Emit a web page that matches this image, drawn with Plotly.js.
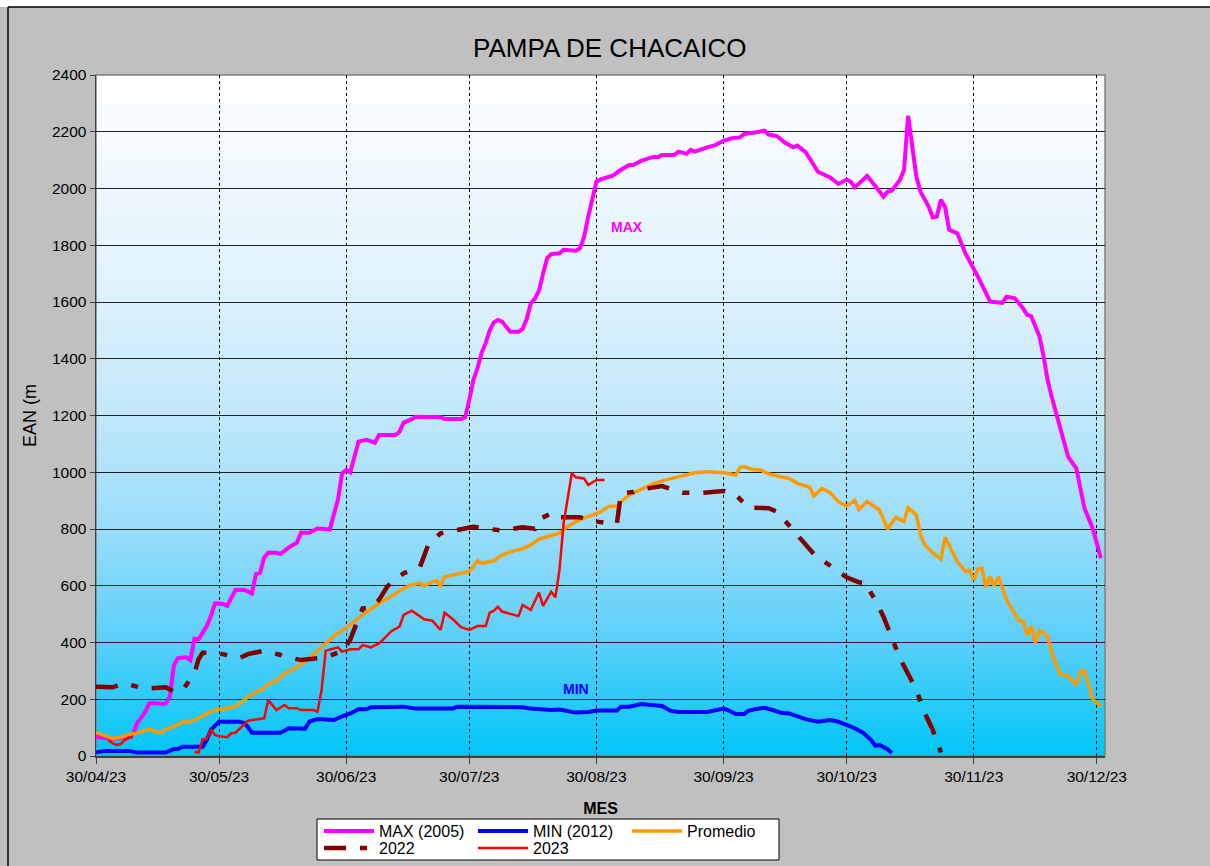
<!DOCTYPE html>
<html>
<head>
<meta charset="utf-8">
<script src="https://cdn.plot.ly/plotly-3.0.1.min.js"></script>
<style>
  html, body { margin: 0; padding: 0; background: #C0C0C0; }
  #chart { width: 1210px; height: 866px; }
</style>
</head>
<body>
<div id="chart"></div>
<script>
// ---- Data (date, EAN value) ----
const maxSeries = [
  ['2023-04-30',68],['2023-05-02',64],['2023-05-04',60],['2023-05-06',63],['2023-05-08',66],['2023-05-09',76],
  ['2023-05-10',115],['2023-05-11',135],['2023-05-12',155],['2023-05-13',186],['2023-05-14',188],['2023-05-16',183],
  ['2023-05-17',185],['2023-05-18',209],['2023-05-19',320],['2023-05-20',345],['2023-05-22',348],['2023-05-23',338],
  ['2023-05-24',413],['2023-05-25',411],['2023-05-26',432],['2023-05-27',458],['2023-05-28',492],['2023-05-29',538],
  ['2023-05-31',536],['2023-06-01',529],['2023-06-03',585],['2023-06-05',586],['2023-06-07',573],['2023-06-08',641],
  ['2023-06-09',646],['2023-06-10',700],['2023-06-11',716],['2023-06-13',716],['2023-06-14',712],['2023-06-16',735],
  ['2023-06-18',752],['2023-06-19',787],['2023-06-21',787],['2023-06-23',802],['2023-06-26',798],['2023-06-27',850],
  ['2023-06-28',905],['2023-06-29',996],['2023-06-30',1008],['2023-07-01',1000],['2023-07-03',1108],['2023-07-05',1114],
  ['2023-07-07',1104],['2023-07-08',1131],['2023-07-12',1131],['2023-07-13',1143],['2023-07-14',1175],['2023-07-16',1187],
  ['2023-07-17',1196],['2023-07-23',1194],['2023-07-24',1188],['2023-07-28',1188],['2023-07-29',1194],['2023-07-30',1255],
  ['2023-07-31',1325],['2023-08-01',1366],['2023-08-02',1420],['2023-08-03',1455],['2023-08-04',1500],['2023-08-05',1528],
  ['2023-08-06',1537],['2023-08-07',1531],['2023-08-08',1512],['2023-08-09',1495],['2023-08-11',1495],['2023-08-12',1505],
  ['2023-08-13',1540],['2023-08-14',1595],['2023-08-15',1612],['2023-08-16',1640],['2023-08-17',1700],['2023-08-18',1755],
  ['2023-08-19',1769],['2023-08-21',1772],['2023-08-22',1784],['2023-08-25',1781],['2023-08-26',1790],['2023-08-27',1830],
  ['2023-08-28',1900],['2023-08-29',1960],['2023-08-30',2024],['2023-08-31',2032],['2023-09-02',2040],['2023-09-03',2045],
  ['2023-09-05',2066],['2023-09-07',2083],['2023-09-08',2083],['2023-09-10',2098],['2023-09-13',2112],['2023-09-14',2110],
  ['2023-09-15',2118],['2023-09-18',2118],['2023-09-19',2130],['2023-09-21',2122],['2023-09-22',2136],['2023-09-23',2130],
  ['2023-09-26',2145],['2023-09-28',2153],['2023-09-30',2168],['2023-10-02',2177],['2023-10-04',2180],['2023-10-05',2192],
  ['2023-10-08',2198],['2023-10-10',2204],['2023-10-11',2190],['2023-10-13',2185],['2023-10-15',2161],['2023-10-17',2145],
  ['2023-10-18',2151],['2023-10-20',2128],['2023-10-21',2106],['2023-10-23',2059],['2023-10-26',2039],['2023-10-28',2016],
  ['2023-10-30',2032],['2023-10-31',2024],['2023-11-01',2004],['2023-11-04',2044],['2023-11-06',2009],['2023-11-08',1971],
  ['2023-11-09',1989],['2023-11-10',1992],['2023-11-12',2030],['2023-11-13',2065],['2023-11-14',2256],['2023-11-16',2042],
  ['2023-11-17',1989],['2023-11-19',1936],['2023-11-20',1898],['2023-11-21',1901],['2023-11-22',1960],['2023-11-23',1935],
  ['2023-11-24',1854],['2023-11-26',1842],['2023-11-28',1770],['2023-12-01',1690],['2023-12-04',1601],['2023-12-07',1597],
  ['2023-12-08',1619],['2023-12-10',1613],['2023-12-12',1578],['2023-12-13',1555],['2023-12-14',1550],['2023-12-16',1480],
  ['2023-12-17',1410],['2023-12-18',1325],['2023-12-19',1266],['2023-12-21',1160],['2023-12-22',1114],['2023-12-23',1055],
  ['2023-12-25',1014],['2023-12-26',949],['2023-12-27',873],['2023-12-29',802],['2023-12-30',750],['2023-12-31',697]
];

const minSeries = [
  ['2023-04-30',12],['2023-05-02',18],['2023-05-08',18],['2023-05-10',12],['2023-05-17',12],['2023-05-19',25],
  ['2023-05-20',25],['2023-05-21',33],['2023-05-26',33],['2023-05-27',56],['2023-05-28',92],['2023-05-30',121],
  ['2023-06-04',121],['2023-06-05',117],['2023-06-06',103],['2023-06-07',82],['2023-06-14',82],['2023-06-16',98],
  ['2023-06-20',96],['2023-06-21',121],['2023-06-23',130],['2023-06-25',127],['2023-06-27',127],['2023-06-29',140],
  ['2023-07-01',150],['2023-07-03',165],['2023-07-05',165],['2023-07-06',172],['2023-07-12',172],['2023-07-14',174],
  ['2023-07-17',167],['2023-07-26',167],['2023-07-27',174],['2023-07-30',174],['2023-08-01',174],['2023-08-12',172],
  ['2023-08-14',167],['2023-08-19',162],['2023-08-21',164],['2023-08-25',153],['2023-08-28',155],['2023-08-30',160],
  ['2023-09-04',160],['2023-09-05',174],['2023-09-07',174],['2023-09-10',183],['2023-09-13',179],['2023-09-15',176],
  ['2023-09-17',160],['2023-09-19',155],['2023-09-26',155],['2023-09-30',167],['2023-10-01',162],['2023-10-03',148],
  ['2023-10-05',148],['2023-10-06',159],['2023-10-08',166],['2023-10-10',170],['2023-10-12',162],['2023-10-14',152],
  ['2023-10-16',150],['2023-10-18',140],['2023-10-20',130],['2023-10-23',121],['2023-10-26',127],['2023-10-28',121],
  ['2023-10-30',109],['2023-11-01',98],['2023-11-03',82],['2023-11-05',56],['2023-11-06',36],['2023-11-07',39],
  ['2023-11-09',24],['2023-11-10',10]
];

const promedioSeries = [
  ['2023-04-30',82],['2023-05-01',78],['2023-05-04',62],['2023-05-06',66],['2023-05-08',76],['2023-05-10',80],
  ['2023-05-11',86],['2023-05-13',94],['2023-05-14',89],['2023-05-16',82],['2023-05-17',94],['2023-05-19',103],
  ['2023-05-21',119],['2023-05-23',121],['2023-05-25',133],['2023-05-26',141],['2023-05-28',156],['2023-05-30',165],
  ['2023-05-31',162],['2023-06-01',170],['2023-06-03',174],['2023-06-05',197],['2023-06-07',218],['2023-06-10',239],
  ['2023-06-11',254],['2023-06-13',265],['2023-06-15',291],['2023-06-18',313],['2023-06-21',344],['2023-06-24',383],
  ['2023-06-27',423],['2023-07-01',462],['2023-07-04',497],['2023-07-08',538],['2023-07-11',562],['2023-07-14',591],
  ['2023-07-16',603],['2023-07-18',609],['2023-07-19',599],['2023-07-21',614],['2023-07-22',618],['2023-07-23',599],
  ['2023-07-24',632],['2023-07-27',641],['2023-07-30',650],['2023-07-31',667],['2023-08-01',688],['2023-08-02',679],
  ['2023-08-05',688],['2023-08-07',708],['2023-08-10',724],['2023-08-12',730],['2023-08-14',744],['2023-08-16',764],
  ['2023-08-19',775],['2023-08-21',785],['2023-08-23',808],['2023-08-25',826],['2023-08-27',838],['2023-08-29',849],
  ['2023-08-31',860],['2023-09-01',870],['2023-09-02',879],['2023-09-04',881],['2023-09-05',896],['2023-09-07',920],
  ['2023-09-10',940],['2023-09-13',961],['2023-09-16',973],['2023-09-19',984],['2023-09-23',998],['2023-09-26',1002],
  ['2023-09-30',998],['2023-10-03',990],['2023-10-04',1017],['2023-10-05',1020],['2023-10-07',1010],['2023-10-09',1008],
  ['2023-10-11',994],['2023-10-14',984],['2023-10-16',978],['2023-10-18',961],['2023-10-21',947],['2023-10-22',916],
  ['2023-10-24',943],['2023-10-26',928],['2023-10-28',896],['2023-10-30',880],['2023-11-01',901],['2023-11-02',869],
  ['2023-11-04',897],['2023-11-07',867],['2023-11-09',800],['2023-11-11',841],['2023-11-13',826],['2023-11-14',875],
  ['2023-11-16',850],['2023-11-17',780],['2023-11-18',745],['2023-11-20',716],['2023-11-22',694],['2023-11-23',771],
  ['2023-11-26',685],['2023-11-28',650],['2023-11-29',655],['2023-11-30',620],['2023-12-01',658],['2023-12-02',661],
  ['2023-12-03',594],['2023-12-04',632],['2023-12-05',599],['2023-12-06',632],['2023-12-08',550],['2023-12-11',477],
  ['2023-12-12',477],['2023-12-13',426],['2023-12-14',458],['2023-12-15',399],['2023-12-16',442],['2023-12-18',423],
  ['2023-12-19',364],['2023-12-21',289],['2023-12-23',282],['2023-12-25',250],['2023-12-26',297],['2023-12-27',301],
  ['2023-12-28',250],['2023-12-29',200],['2023-12-30',188],['2023-12-31',176]
];

const series2022 = [
  ['2023-04-30',244],['2023-05-04',242],['2023-05-07',256],['2023-05-09',249],['2023-05-12',237],['2023-05-17',242],
  ['2023-05-18',235],['2023-05-19',227],['2023-05-21',230],['2023-05-22',250],['2023-05-24',291],['2023-05-25',341],
  ['2023-05-26',364],['2023-05-30',362],['2023-06-01',356],['2023-06-04',345],['2023-06-06',359],['2023-06-10',371],
  ['2023-06-14',356],['2023-06-15',350],['2023-06-19',338],['2023-06-25',348],['2023-06-28',364],['2023-06-29',364],
  ['2023-07-01',411],['2023-07-03',479],['2023-07-04',520],['2023-07-06',522],['2023-07-08',550],['2023-07-10',597],
  ['2023-07-11',611],['2023-07-14',644],['2023-07-18',667],['2023-07-20',744],['2023-07-23',785],['2023-07-28',799],
  ['2023-07-31',808],['2023-08-03',802],['2023-08-07',794],['2023-08-12',806],['2023-08-15',801],['2023-08-16',834],
  ['2023-08-19',855],['2023-08-20',841],['2023-08-24',843],['2023-08-26',841],['2023-08-30',826],['2023-09-02',820],
  ['2023-09-04',820],['2023-09-05',926],['2023-09-08',930],['2023-09-10',940],['2023-09-15',951],['2023-09-18',937],
  ['2023-09-20',928],['2023-09-25',928],['2023-09-30',934],['2023-10-03',920],['2023-10-06',876],['2023-10-11',873],
  ['2023-10-13',861],['2023-10-15',829],['2023-10-19',761],['2023-10-22',712],['2023-10-24',691],['2023-10-26',670],
  ['2023-10-29',638],['2023-10-30',630],['2023-11-02',612],['2023-11-04',609],['2023-11-05',573],['2023-11-06',550],
  ['2023-11-08',491],['2023-11-10',420],['2023-11-12',344],['2023-11-14',289],['2023-11-16',233],['2023-11-18',153],
  ['2023-11-20',92],['2023-11-22',12]
];

const series2023 = [
  ['2023-05-03',56],['2023-05-04',45],['2023-05-05',39],['2023-05-06',42],['2023-05-07',56],['2023-05-08',64],['2023-05-09',68],
  ['2023-05-16',null],
  ['2023-05-24',15],['2023-05-25',12],['2023-05-26',59],['2023-05-27',59],['2023-05-28',94],['2023-05-29',74],
  ['2023-05-30',70],['2023-06-01',66],['2023-06-02',80],['2023-06-03',82],['2023-06-06',124],['2023-06-07',127],
  ['2023-06-10',133],['2023-06-11',197],['2023-06-13',162],['2023-06-15',180],['2023-06-16',168],['2023-06-18',168],
  ['2023-06-19',162],['2023-06-22',162],['2023-06-23',156],['2023-06-24',233],['2023-06-25',371],['2023-06-27',380],
  ['2023-06-28',383],['2023-06-29',368],['2023-07-01',376],['2023-07-03',376],['2023-07-04',391],['2023-07-06',383],
  ['2023-07-08',397],['2023-07-09',410],['2023-07-10',425],['2023-07-11',440],['2023-07-13',456],['2023-07-14',497],
  ['2023-07-16',512],['2023-07-19',482],['2023-07-21',477],['2023-07-23',444],['2023-07-24',505],['2023-07-26',482],
  ['2023-07-28',454],['2023-07-30',444],['2023-08-01',458],['2023-08-03',458],['2023-08-04',505],['2023-08-05',512],
  ['2023-08-06',526],['2023-08-07',509],['2023-08-11',493],['2023-08-12',532],['2023-08-14',515],['2023-08-16',576],
  ['2023-08-17',529],['2023-08-19',579],['2023-08-20',559],['2023-08-21',656],['2023-08-22',820],['2023-08-24',996],
  ['2023-08-25',982],['2023-08-27',978],['2023-08-28',955],['2023-08-30',973],['2023-09-01',973]
];

const seriesNames = ['MAX (2005)', 'MIN (2012)', 'Promedio', '2022', '2023'];
const tickDates = ['2023-04-30','2023-05-30','2023-06-30','2023-07-30','2023-08-30','2023-09-30','2023-10-30','2023-11-30','2023-12-30'];
const tickLabels = ['30/04/23','30/05/23','30/06/23','30/07/23','30/08/23','30/09/23','30/10/23','30/11/23','30/12/23'];

// ---- Styling ----
const FONT = 'Liberation Sans, Arial, sans-serif';
function xs(s) { return s.map(p => p[0]); }
function ys(s) { return s.map(p => p[1]); }

const traces = [
  {name: seriesNames[0], x: xs(maxSeries), y: ys(maxSeries), type: 'scatter', mode: 'lines',
   line: {color: '#FF00FF', width: 4}, legend: 'legend'},
  {name: seriesNames[1], x: xs(minSeries), y: ys(minSeries), type: 'scatter', mode: 'lines',
   line: {color: '#0000FF', width: 4}, legend: 'legend'},
  {name: seriesNames[2], x: xs(promedioSeries), y: ys(promedioSeries), type: 'scatter', mode: 'lines',
   line: {color: '#FF9900', width: 3.5}, legend: 'legend'},
  {name: seriesNames[3], x: xs(series2022), y: ys(series2022), type: 'scatter', mode: 'lines',
   line: {color: '#800000', width: 4.5, dash: '22px,14px,7px,14px'}, legend: 'legend2'},
  {name: seriesNames[4], x: xs(series2023), y: ys(series2023), type: 'scatter', mode: 'lines',
   line: {color: '#FF0000', width: 2.5}, connectgaps: false, legend: 'legend2'}
];

const W = 1210, H = 866, ML = 96, MR = 105, MT = 75, MB = 110;
const PW = W - ML - MR, PH = H - MT - MB;
function px2x(px) { return (px - ML) / PW; }
function py2y(py) { return (H - MB - py) / PH; }

const gradSvg = "<svg xmlns='http://www.w3.org/2000/svg' width='100' height='100' viewBox='0 0 100 100' preserveAspectRatio='none'>" +
  "<defs><linearGradient id='g' x1='0' y1='0' x2='0' y2='1'>" +
  "<stop offset='0' stop-color='#FFFFFF'/>" +
  "<stop offset='0.33' stop-color='#DDF1FC'/>" +
  "<stop offset='0.5' stop-color='#C0E8FB'/>" +
  "<stop offset='0.67' stop-color='#98DDFA'/>" +
  "<stop offset='0.83' stop-color='#5ACFF9'/>" +
  "<stop offset='1' stop-color='#00C6F6'/>" +
  "</linearGradient></defs><rect x='0' y='0' width='100' height='100' fill='url(#g)'/></svg>";
const gradUri = 'data:image/svg+xml;charset=utf-8,' + encodeURIComponent(gradSvg);

const legendCommon = {
  orientation: 'h', xanchor: 'left', yanchor: 'middle',
  bgcolor: 'rgba(0,0,0,0)', borderwidth: 0, itemwidth: 50,
  entrywidth: 89, entrywidthmode: 'pixels',
  font: {family: FONT, size: 16, color: '#000000'}, itemclick: false, itemdoubleclick: false
};

const layout = {
  width: W, height: H,
  margin: {l: ML, r: MR, t: MT, b: MB, autoexpand: false},
  paper_bgcolor: '#C0C0C0',
  plot_bgcolor: '#FFFFFF',
  font: {family: FONT, color: '#000000', size: 15.5},
  title: {text: 'PAMPA DE CHACAICO', font: {family: FONT, size: 26, color: '#000000'},
          x: 0.504, xanchor: 'center', y: 1 - 48 / H, yanchor: 'middle', yref: 'container'},
  xaxis: {
    type: 'date', range: ['2023-04-30', '2024-01-01'],
    tickmode: 'array', tickvals: tickDates, ticktext: tickLabels,
    ticks: 'outside', ticklen: 6, tickcolor: '#404040', tickwidth: 1,
    tickfont: {family: FONT, size: 15.5, color: '#000000'},
    showgrid: true, gridcolor: '#000000', gridwidth: 1, griddash: '3px,3px',
    showline: true, linecolor: '#404040', linewidth: 1.5,
    zeroline: false, automargin: false,
    title: {text: '<b>MES</b>', font: {family: FONT, size: 16, color: '#000000'}, standoff: 18}
  },
  yaxis: {
    range: [0, 2400], dtick: 200, tick0: 0,
    ticks: 'outside', ticklen: 5, tickcolor: '#404040', tickwidth: 1,
    tickfont: {family: FONT, size: 15.5, color: '#000000'},
    showgrid: true, gridcolor: '#222222', gridwidth: 1,
    showline: true, linecolor: '#404040', linewidth: 1.5,
    zeroline: false, automargin: false,
    title: {text: 'EAN (m', font: {family: FONT, size: 18, color: '#000000'}, standoff: 10}
  },
  images: [{source: gradUri, xref: 'paper', yref: 'paper', x: 0, y: 1, sizex: 1, sizey: 1,
            xanchor: 'left', yanchor: 'top', sizing: 'stretch', layer: 'below'}],
  shapes: [
    {type: 'rect', xref: 'paper', yref: 'paper', x0: 0, x1: 1, y0: 0, y1: 1,
     line: {color: '#808080', width: 1.5}, fillcolor: 'rgba(0,0,0,0)', layer: 'below'},
    {type: 'rect', xref: 'paper', yref: 'paper', x0: px2x(0), x1: px2x(W), y0: py2y(7), y1: py2y(0),
     line: {width: 0}, fillcolor: '#FFFFFF', layer: 'below'},
    {type: 'line', xref: 'paper', yref: 'paper', x0: px2x(8), x1: px2x(W), y0: py2y(7), y1: py2y(7),
     line: {color: '#000000', width: 1.5}, layer: 'below'},
    {type: 'line', xref: 'paper', yref: 'paper', x0: px2x(8), x1: px2x(8), y0: py2y(7), y1: py2y(H),
     line: {color: '#000000', width: 1.5}, layer: 'below'},
    {type: 'rect', xref: 'paper', yref: 'paper', x0: px2x(317), x1: px2x(779), y0: py2y(860), y1: py2y(819),
     line: {color: '#000000', width: 1}, fillcolor: '#FFFFFF', layer: 'below'}
  ],
  annotations: [
    {text: '<b>MAX</b>', x: '2023-09-06 12:00', y: 1865, xref: 'x', yref: 'y', showarrow: false,
     font: {family: FONT, size: 14, color: '#FF00FF'}},
    {text: '<b>MIN</b>', x: '2023-08-24 22:00', y: 235, xref: 'x', yref: 'y', showarrow: false,
     font: {family: FONT, size: 14, color: '#0000FF'}}
  ],
  showlegend: true,
  legend: Object.assign({}, legendCommon, {x: px2x(319), y: py2y(831)}),
  legend2: Object.assign({}, legendCommon, {x: px2x(319), y: py2y(848)})
};

Plotly.newPlot('chart', traces, layout, {displayModeBar: false, staticPlot: true});
</script>
</body>
</html>
